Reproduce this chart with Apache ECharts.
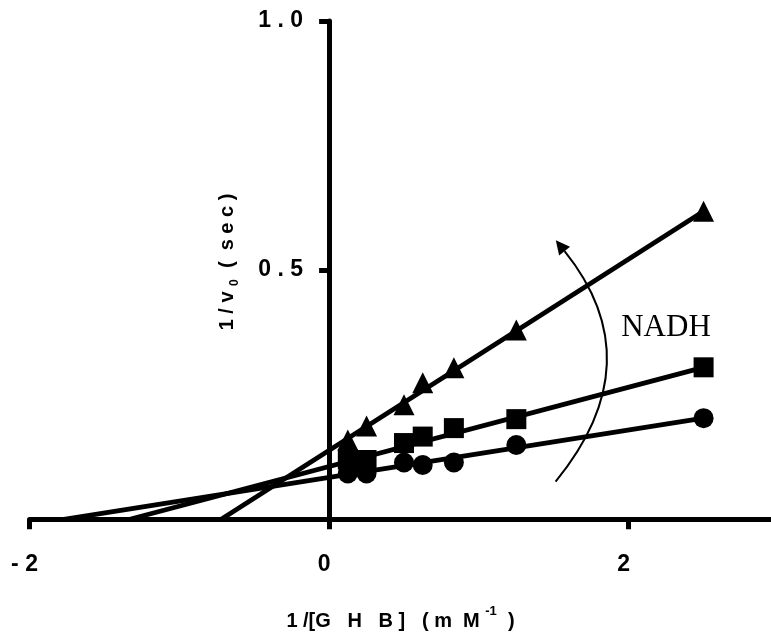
<!DOCTYPE html>
<html><head><meta charset="utf-8">
<script src="https://cdn.jsdelivr.net/npm/echarts@6/dist/echarts.min.js"></script>
<style>html,body{margin:0;padding:0;background:#fff}#c{width:771px;height:635px}</style>
</head><body><div id="c"></div>
<script>
// 1/[GHB] values (mM^-1)
const xValues = [0.125, 0.25, 0.5, 0.625, 0.833, 1.25, 2.5];
// 1/v0 (sec) for the three NADH levels
const circleY = [0.092, 0.092, 0.114, 0.109, 0.114, 0.149, 0.203];
const squareY = [0.120, 0.119, 0.153, 0.166, 0.183, 0.201, 0.305];
const triangleY = [0.159, 0.187, 0.230, 0.274, 0.304, 0.380, 0.618];
// fitted lines (end points)
const circleFitX = [-1.77, 2.5], circleFitY = [0, 0.203];
const squareFitX = [-1.33, 2.5], squareFitY = [0, 0.305];
const triangleFitX = [-0.72, 2.5], triangleFitY = [0, 0.618];
// ticks
const xTickValues = [-2, 0, 2];
const xTickLabels = ['- 2', '0', '2'];
const yTickValues = [0.5, 1.0];
const yTickLabels = ['0 . 5', '1 . 0'];
// arrow annotation (data units)
const arrowStart = [1.512, 0.0755], arrowCtrl = [2.166, 0.316], arrowEnd = [1.572, 0.538];

const X_MIN = -2, X_MAX = 2.95;
const GRID = {left: 29.5, right: 0, top: 21, bottom: 115.7};
const W = 771;
const pairs = (xs, ys) => xs.map((x, i) => [x, ys[i]]);
const chart = echarts.init(document.getElementById('c'), null, {renderer: 'canvas'});
const FONT = 'Liberation Sans';
const lineStyle = {color: '#000', width: 4.8};
// y axis crosses at x = 0
const yAxisOffset = -((0 - X_MIN) / (X_MAX - X_MIN)) * (W - GRID.left - GRID.right);

chart.setOption({
  animation: false,
  backgroundColor: '#fff',
  grid: Object.assign({containLabel: false, outerBoundsMode: 'none'}, GRID),
  xAxis: {
    type: 'value', min: X_MIN, max: X_MAX,
    axisLine: {show: true, onZero: false, lineStyle: {color: '#000', width: 5}},
    axisTick: {show: true, inside: false, length: 10, lineStyle: {color: '#000', width: 5}, customValues: xTickValues},
    axisLabel: {show: true, margin: 34, color: '#000', fontFamily: FONT, fontWeight: 'bold', fontSize: 23,
      padding: [0, 10, 0, 0], customValues: xTickValues,
      formatter: v => { const i = xTickValues.indexOf(v); return i >= 0 ? xTickLabels[i] : ''; }},
    splitLine: {show: false}
  },
  yAxis: {
    type: 'value', min: 0, max: 1.0, position: 'left', offset: yAxisOffset,
    axisLine: {show: true, onZero: false, lineStyle: {color: '#000', width: 5}},
    axisTick: {show: true, inside: false, length: 10, lineStyle: {color: '#000', width: 5}, customValues: yTickValues},
    axisLabel: {show: true, margin: 26, color: '#000', fontFamily: FONT, fontWeight: 'bold', fontSize: 23,
      customValues: yTickValues,
      formatter: v => { const i = yTickValues.findIndex(t => Math.abs(t - v) < 1e-9); return i >= 0 ? yTickLabels[i] : ''; }},
    splitLine: {show: false}
  },
  series: [
    {type: 'line', data: pairs(circleFitX, circleFitY), showSymbol: false, lineStyle, z: 3},
    {type: 'line', data: pairs(squareFitX, squareFitY), showSymbol: false, lineStyle, z: 3},
    {type: 'line', data: pairs(triangleFitX, triangleFitY), showSymbol: false, lineStyle, z: 3},
    {type: 'scatter', data: pairs(xValues, circleY), symbol: 'circle', symbolSize: 20, itemStyle: {color: '#000', opacity: 1}, z: 4},
    {type: 'scatter', data: pairs(xValues, squareY), symbol: 'rect', symbolSize: 20, itemStyle: {color: '#000', opacity: 1}, z: 4},
    {type: 'scatter', data: pairs(xValues, triangleY), symbol: 'triangle', symbolSize: 21, itemStyle: {color: '#000', opacity: 1}, z: 4}
  ]
});

const p0 = chart.convertToPixel({gridIndex: 0}, arrowStart);
const p1 = chart.convertToPixel({gridIndex: 0}, arrowCtrl);
const p2 = chart.convertToPixel({gridIndex: 0}, arrowEnd);
const dx = p2[0] - p1[0], dy = p2[1] - p1[1];
const len = Math.hypot(dx, dy), ux = dx / len, uy = dy / len;
const headLen = 14, headHalf = 7;
const tip = [p2[0] + ux * headLen, p2[1] + uy * headLen];
const b1 = [p2[0] - uy * headHalf, p2[1] + ux * headHalf];
const b2 = [p2[0] + uy * headHalf, p2[1] - ux * headHalf];

const xTitleRich = {
  a: {fontFamily: FONT, fontWeight: 'bold', fontSize: 20, color: '#000', verticalAlign: 'bottom'},
  s: {fontFamily: FONT, fontWeight: 'bold', fontSize: 13, color: '#000', verticalAlign: 'bottom', padding: [0, 0, 14, 0]}
};
const yTitleRich = {
  a: {fontFamily: FONT, fontWeight: 'bold', fontSize: 20, color: '#000', verticalAlign: 'bottom', padding: [0, 0, 4, 0]},
  s: {fontFamily: FONT, fontWeight: 'bold', fontSize: 12, color: '#000', verticalAlign: 'bottom'}
};

chart.setOption({
  graphic: [
    {type: 'bezierCurve', z: 10, shape: {x1: p0[0], y1: p0[1], cpx1: p1[0], cpy1: p1[1], x2: p2[0], y2: p2[1]},
      style: {stroke: '#000', lineWidth: 2, fill: null}},
    {type: 'polygon', z: 10, shape: {points: [tip, b1, b2]}, style: {fill: '#000'}},
    {type: 'text', z: 10, x: 666, y: 328,
      style: {text: 'NADH', font: '31px "Liberation Serif"', fill: '#000', align: 'center', verticalAlign: 'middle'}},
    {type: 'text', z: 10, x: 400.5, y: 618,
      style: {text: '{a|1 /[G   H   B ]   ( m  M }{s|-1}{a|  )}', rich: xTitleRich, align: 'center', verticalAlign: 'middle'}},
    {type: 'text', z: 10, x: 229, y: 262, rotation: Math.PI / 2,
      style: {text: '{a|1 / v }{s|0}{a|  (  s e c )}', rich: yTitleRich, align: 'center', verticalAlign: 'middle'}}
  ]
});
</script></body></html>
